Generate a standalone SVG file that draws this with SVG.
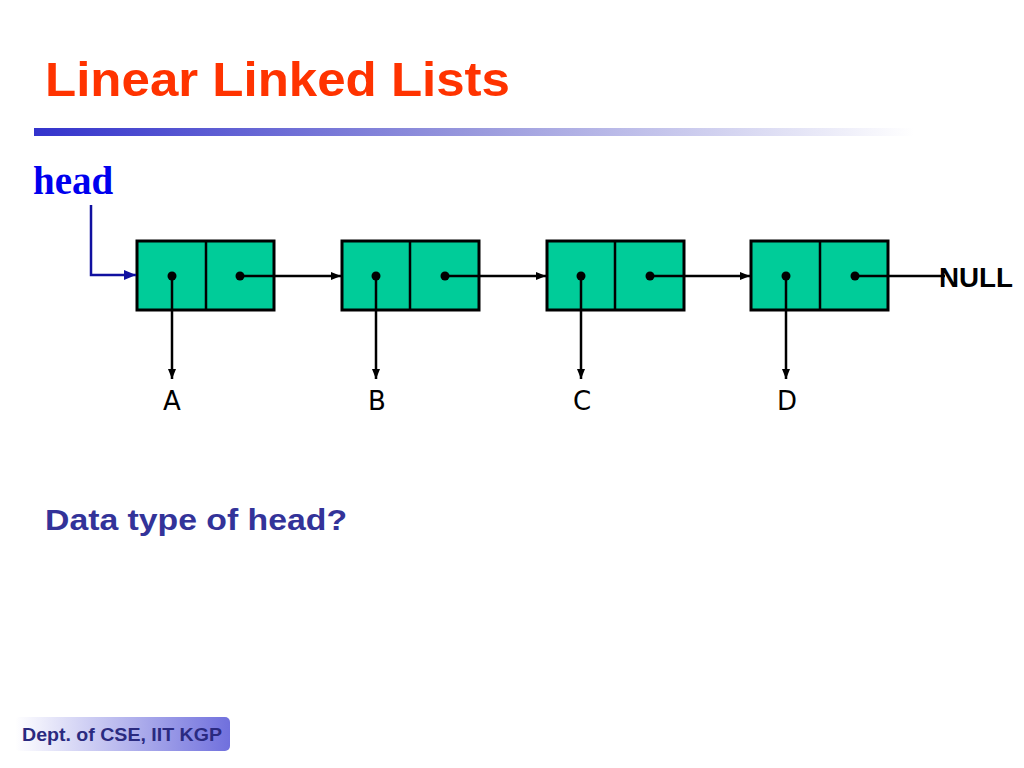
<svg xmlns="http://www.w3.org/2000/svg" width="1024" height="768" viewBox="0 0 1024 768">
<defs>
<linearGradient id="bar" x1="0" y1="0" x2="1" y2="0">
<stop offset="0" stop-color="#3333CC"/>
<stop offset="0.5" stop-color="#9999DD"/>
<stop offset="1" stop-color="#FFFFFF"/>
</linearGradient>
<linearGradient id="foot" x1="0" y1="0" x2="1" y2="0">
<stop offset="0" stop-color="#FFFFFF"/>
<stop offset="1" stop-color="#7070DD"/>
</linearGradient>
<marker id="ah" markerWidth="10" markerHeight="8" refX="10" refY="4" orient="auto" markerUnits="userSpaceOnUse">
<path d="M0,0 L10,4 L0,8 Z" fill="#000"/>
</marker>
<marker id="ahb" markerWidth="12" markerHeight="10" refX="12" refY="5" orient="auto" markerUnits="userSpaceOnUse">
<path d="M0,0 L12,5 L0,10 Z" fill="#1010A0"/>
</marker>
<style>
.box{fill:#00CC99;stroke:#000;stroke-width:3}
.ln{stroke:#000;stroke-width:2.5;fill:none}
.dot{fill:#000}
.lbl{font-family:"DejaVu Sans",sans-serif;font-size:26px;fill:#000;text-anchor:middle}
</style>
</defs>
<rect width="1024" height="768" fill="#FFFFFF"/>
<text x="45" y="96" font-family="Liberation Sans, Arial, sans-serif" font-weight="bold" font-size="49" fill="#FF3300" textLength="465" lengthAdjust="spacingAndGlyphs">Linear Linked Lists</text>
<rect x="34" y="128" width="880" height="8" fill="url(#bar)"/>
<g id="head">
<text x="33" y="194" font-family="Liberation Serif, Times New Roman, serif" font-weight="bold" font-size="39" fill="#0000EE">head</text>
</g>
<g id="n1">
<rect class="box" x="137" y="241" width="137" height="69"/>
<line class="ln" x1="206" y1="241" x2="206" y2="310" stroke-width="3"/>
<circle class="dot" cx="172" cy="276" r="4.5"/>
<circle class="dot" cx="240" cy="276" r="4.5"/>
</g>
<g id="n2">
<rect class="box" x="342" y="241" width="137" height="69"/>
<line class="ln" x1="410" y1="241" x2="410" y2="310" stroke-width="3"/>
<circle class="dot" cx="376" cy="276" r="4.5"/>
<circle class="dot" cx="445" cy="276" r="4.5"/>
</g>
<g id="n3">
<rect class="box" x="547" y="241" width="137" height="69"/>
<line class="ln" x1="615" y1="241" x2="615" y2="310" stroke-width="3"/>
<circle class="dot" cx="581" cy="276" r="4.5"/>
<circle class="dot" cx="650" cy="276" r="4.5"/>
</g>
<g id="n4">
<rect class="box" x="751" y="241" width="137" height="69"/>
<line class="ln" x1="820" y1="241" x2="820" y2="310" stroke-width="3"/>
<circle class="dot" cx="786" cy="276" r="4.5"/>
<circle class="dot" cx="855" cy="276" r="4.5"/>
</g>
<g id="labels">
<text class="lbl" x="172" y="410">A</text>
<text class="lbl" x="377" y="410">B</text>
<text class="lbl" x="582" y="410">C</text>
<text class="lbl" x="787" y="410">D</text>
<text x="939" y="287" font-family="Liberation Sans, Arial, sans-serif" font-weight="bold" font-size="27" fill="#000" textLength="74" lengthAdjust="spacingAndGlyphs">NULL</text>
</g>
<g id="connectors">
<polyline points="91,205 91,275 136,275" fill="none" stroke="#1010A0" stroke-width="2.5" marker-end="url(#ahb)"/>
<line class="ln" x1="240" y1="276" x2="341" y2="276" marker-end="url(#ah)"/>
<line class="ln" x1="445" y1="276" x2="546" y2="276" marker-end="url(#ah)"/>
<line class="ln" x1="650" y1="276" x2="750" y2="276" marker-end="url(#ah)"/>
<line class="ln" x1="855" y1="276" x2="945" y2="276"/>
<line class="ln" x1="172" y1="276" x2="172" y2="379" marker-end="url(#ah)"/>
<line class="ln" x1="376" y1="276" x2="376" y2="379" marker-end="url(#ah)"/>
<line class="ln" x1="581" y1="276" x2="581" y2="379" marker-end="url(#ah)"/>
<line class="ln" x1="786" y1="276" x2="786" y2="379" marker-end="url(#ah)"/>
</g>
<text x="45" y="530" font-family="Liberation Sans, Arial, sans-serif" font-weight="bold" font-size="30" fill="#333399" textLength="302" lengthAdjust="spacingAndGlyphs">Data type of head?</text>
<g id="footer">
<rect x="15" y="717" width="215" height="34" rx="5" fill="url(#foot)"/>
<text x="22" y="741" font-family="Liberation Sans, Arial, sans-serif" font-weight="bold" font-size="19" fill="#2A2A80" textLength="200" lengthAdjust="spacingAndGlyphs">Dept. of CSE, IIT KGP</text>
</g>
</svg>
